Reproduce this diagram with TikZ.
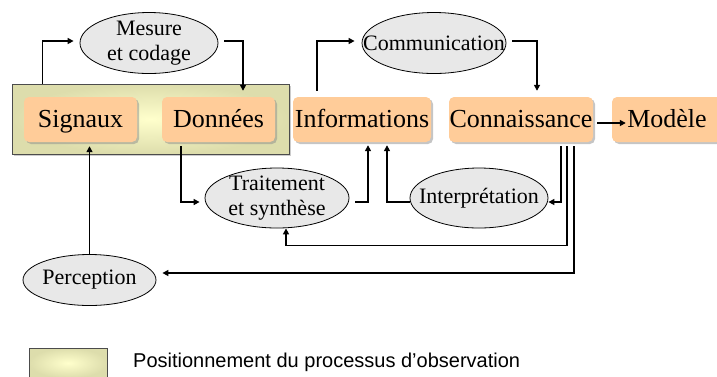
\documentclass[tikz,border=0pt]{standalone}
\usepackage{fontspec}
\setmainfont{Liberation Serif}
\newfontfamily\legendfont{Liberation Sans}
\usetikzlibrary{arrows.meta,shapes.geometric,shadows}
\definecolor{boxorange}{RGB}{255,204,153}
\definecolor{obsouter}{RGB}{221,221,172}
\definecolor{obsinner}{RGB}{255,255,204}
\definecolor{ellgray}{RGB}{232,232,232}

\begin{document}
\begin{tikzpicture}
    [x=1pt,y=-1pt,
     etape/.style={rectangle,rounded corners=5pt,fill=boxorange,inner sep=0pt,minimum height=45pt,
       text height=20pt,text depth=5pt,font=\fontsize{26}{30}\selectfont,
       drop shadow={shadow xshift=2pt,shadow yshift=-2pt,fill=black!45}},
     proc/.style={ellipse,draw,line width=0.8pt,fill=ellgray,inner sep=0pt},
     procnom/.style={inner sep=0pt,align=center,font=\fontsize{22}{25}\selectfont},
     zone/.style={rectangle,draw=black!70,line width=1pt,shade,inner color=obsinner,outer color=obsouter,inner sep=0pt},
     fleche/.style={line width=1.5pt,-{Triangle[length=6pt,width=6pt]}}]
    \useasboundingbox (0,0) rectangle (717,376);
    \node[zone,minimum width=277pt,minimum height=70pt,drop shadow={shadow xshift=1.5pt,shadow yshift=-1.5pt,fill=black!40}] (obs) at (150.5,119) {};
    \node[etape,minimum width=113pt] (sig) at (80.5,119.5) {Signaux};
    \node[etape,minimum width=113pt] (don) at (218.5,119.5) {Données};
    \node[etape,minimum width=138pt] (inf) at (362,119.5) {Informations};
    \node[etape,minimum width=144pt] (con) at (521,119.5) {Connaissance};
    \node[etape,minimum width=110pt] (mod) at (667,119.5) {Modèle};
    \node[proc,minimum width=138pt,minimum height=61pt] (mes) at (149,43) {};
    \node[procnom] (mesnom) at (mes) {Mesure\\et codage};
    \node[proc,minimum width=144pt,minimum height=61pt] (com) at (434,43) {};
    \node[procnom] (comnom) at (com) {Communication};
    \node[proc,minimum width=144pt,minimum height=60pt] (tra) at (277,198) {};
    \node[procnom] (tranom) at (tra) {Traitement\\et synthèse};
    \node[proc,minimum width=138pt,minimum height=60pt] (itp) at (479,198) {};
    \node[procnom] (itpnom) at (itp) {Interprétation};
    \node[proc,minimum width=133pt,minimum height=51pt] (per) at (89.5,280) {};
    \node[procnom] (pernom) at (per) {Perception};
    \node[zone,minimum width=78pt,minimum height=30pt] (leg) at (68,363) {};
    \node[anchor=west,inner sep=0pt,font=\legendfont\fontsize{20}{24}\selectfont] (legnom) at (133,362) {Positionnement du processus d’observation};
    \draw[fleche] ([xshift=31pt]obs.north west) |- ([xshift=-6pt,yshift=2pt]mes.west);
    \draw[fleche] ([xshift=6pt,yshift=2pt]mes.east) -| ([xshift=24.5pt,yshift=6pt]don.north);
    \draw[fleche] ([xshift=-45pt,yshift=6pt]inf.north) |- ([xshift=-7pt,yshift=2pt]com.west);
    \draw[fleche] ([xshift=6pt,yshift=2pt]com.east) -| ([xshift=16pt,yshift=6pt]con.north);
    \draw[fleche] ([xshift=4pt,yshift=-3.5pt]con.east) -- ([xshift=14pt,yshift=-3.5pt]mod.west);
    \draw[fleche] ([xshift=-37.5pt,yshift=-4pt]don.south) |- ([xshift=-5pt,yshift=-4pt]tra.west);
    \draw[fleche] ([xshift=6pt,yshift=-4pt]tra.east) -| ([xshift=6pt,yshift=-3pt]inf.south);
    \draw[fleche] ([yshift=-4pt]itp.west) -| ([xshift=25pt,yshift=-3pt]inf.south);
    \draw[fleche] ([xshift=40pt,yshift=-4pt]con.south) |- ([yshift=-4pt]itp.east);
    \draw[fleche] ([xshift=46pt,yshift=-4pt]con.south) |- ([xshift=9pt,yshift=-17pt]tra.south) -- ([xshift=9pt]tra.south);
    \draw[fleche] ([xshift=53pt,yshift=-4pt]con.south) |- ([xshift=6pt,yshift=7pt]per.east);
    \draw[fleche] (per.north) -- ([xshift=9pt,yshift=-4pt]sig.south);
  \end{tikzpicture}
\end{document}
